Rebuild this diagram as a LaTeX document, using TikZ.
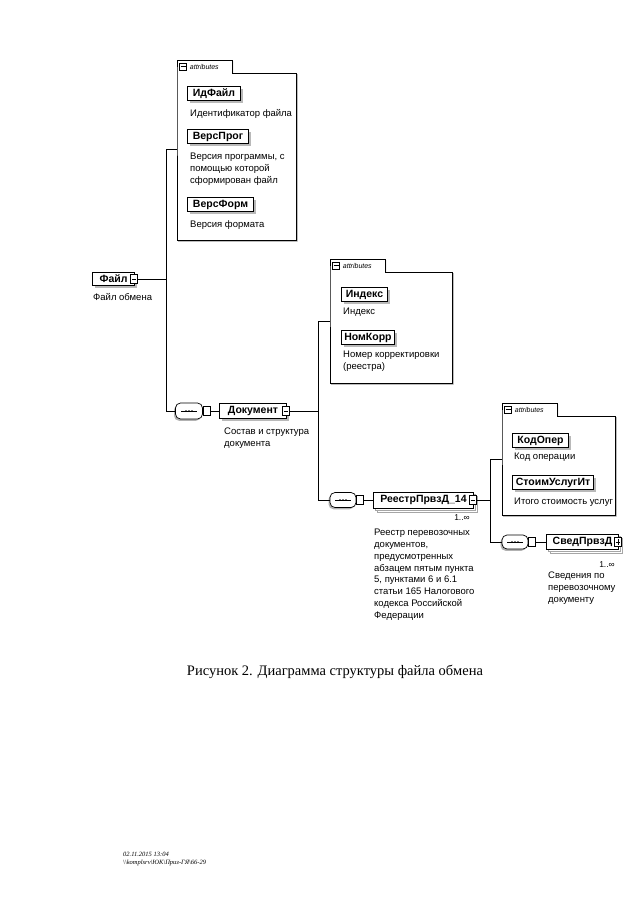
\documentclass[tikz,border=0pt]{standalone}
\usepackage{fontspec}
\setmainfont{Liberation Sans}
\newfontfamily\capfont{Liberation Serif}
\usetikzlibrary{shadows,calc}
\begin{document}
\begin{tikzpicture}[x=1pt,y=-1pt,
  conn/.style={line width=0.6pt},
  elbox/.style={draw, line width=1pt, fill=white, inner sep=0pt,
    font=\bfseries\fontsize{10.5}{12}\selectfont, minimum height=14},
  sh/.style={drop shadow={shadow xshift=2.5pt, shadow yshift=-2.5pt, fill=gray!55, opacity=1}},
  multi/.style={double copy shadow={shadow xshift=2pt, shadow yshift=-2pt, draw=gray!70, fill=white, line width=0.6pt}},
  desc/.style={anchor=north west, inner sep=0pt, align=left, font=\fontsize{9.5}{11.8}\selectfont},
  abox/.style={anchor=north west, inner sep=0pt},
  aline/.style={draw, line width=0.6pt, fill=white, drop shadow={shadow xshift=1.2pt, shadow yshift=-1.2pt, fill=gray!80, opacity=1}},
  alabel/.style={anchor=west, inner sep=0pt, font=\itshape\fontsize{7}{8}\selectfont},
  minusicon/.style={draw, fill=white, line width=0.5pt, minimum width=7, minimum height=9, inner sep=0pt,
    path picture={\draw[line width=0.5pt] ([xshift=1.3pt]path picture bounding box.west) -- ([xshift=-1.3pt]path picture bounding box.east);}},
  plusicon/.style={minusicon, path picture={\draw[line width=0.5pt] ([xshift=1.3pt]path picture bounding box.west) -- ([xshift=-1.3pt]path picture bounding box.east) (path picture bounding box.center) ++(0,3) -- ++(0,-6);}},
  smallbox/.style={draw, fill=white, line width=0.5pt, minimum width=7, minimum height=9, inner sep=0pt, anchor=west},
  seqbox/.style={draw, line width=0.7pt, fill=white, rounded corners=5, minimum width=27, minimum height=16, inner sep=0pt,
    drop shadow={shadow xshift=-1.5pt, shadow yshift=-1.8pt, fill=gray!60, opacity=1}},
  mult/.style={inner sep=0pt, font=\fontsize{8.5}{9}\selectfont},
  tabicon/.style={draw, line width=0.5pt, minimum width=7, minimum height=7, inner sep=0pt,
    path picture={\draw[line width=0.5pt] ([xshift=1pt]path picture bounding box.west) -- ([xshift=-1pt]path picture bounding box.east);}}
]
\useasboundingbox (0,0) rectangle (640,905);
\fill[white] (0,0) rectangle (640,905);

% ---------- attribute boxes ----------
\node[abox, minimum width=119, minimum height=167] (a1) at (177,73) {};
\node[abox, minimum width=122, minimum height=111] (a2) at (330,272) {};
\node[abox, minimum width=113, minimum height=99] (a3) at (502,416) {};
\foreach \b in {a1,a2,a3}{
  \path[aline] (\b.south west) -- (\b.north west) -- ++(0,-13) -- ++(55,0) -- ++(0,13)
    -- (\b.north east) -- (\b.south east) -- cycle;
  \node[tabicon] (\b i) at ($(\b.north west)+(6,-6.5)$) {};
  \node[alabel] (\b t) at ($(\b i.east)+(3,0)$) {attributes};
}

% ---------- attributes of Файл ----------
\node[elbox, sh, anchor=north west, minimum width=53] (idf) at (187,86) {ИдФайл};
\node[desc] (idfd) at (190,109) {Идентификатор файла};
\node[elbox, sh, anchor=north west, minimum width=61] (vp) at (187,129) {ВерсПрог};
\node[desc] (vpd) at (190,153) {Версия программы, с\\помощью которой\\сформирован файл};
\node[elbox, sh, anchor=north west, minimum width=66] (vf) at (187,197) {ВерсФорм};
\node[desc] (vfd) at (190,220) {Версия формата};

% ---------- attributes of Документ ----------
\node[elbox, sh, anchor=north west, minimum width=46] (ind) at (341,287) {Индекс};
\node[desc] (indd) at (343,308) {Индекс};
\node[elbox, sh, anchor=north west, minimum width=53] (nk) at (341,330) {НомКорр};
\node[desc] (nkd) at (343,351) {Номер корректировки\\(реестра)};

% ---------- attributes of РеестрПрвзД_14 ----------
\node[elbox, sh, anchor=north west, minimum width=56] (ko) at (512,433) {КодОпер};
\node[desc] (kod) at (514,453) {Код операции};
\node[elbox, sh, anchor=north west, minimum width=81] (su) at (512,475) {СтоимУслугИт};
\node[desc] (sud) at (514,498) {Итого стоимость услуг};

% ---------- Файл ----------
\node[elbox, sh, anchor=west, minimum width=42, minimum height=13] (fil) at (92,279) {Файл\hspace{5pt}};
\node[minusicon] (filx) at ([xshift=-1]fil.east) {};
\node[desc] (fild) at (93,293) {Файл обмена};
\coordinate (b1) at (166,0);
\coordinate (a1in) at (177,149);

% ---------- Документ ----------
\node[seqbox] (seq1) at (189,411) {};
\node[smallbox] (sq1) at (seq1.east) {};
\node[elbox, sh, anchor=west, minimum width=67, minimum height=15] (doc) at (219,411) {Документ\hspace{5pt}};
\node[minusicon] (docx) at ([xshift=-1]doc.east) {};
\node[desc] (docd) at (224,428) {Состав и структура\\документа};
\coordinate (b2) at (318,0);
\coordinate (a2in) at (330,321);

% ---------- РеестрПрвзД_14 ----------
\node[seqbox, minimum width=26, minimum height=15] (seq2) at (343,500) {};
\node[smallbox] (sq2) at (seq2.east) {};
\node[elbox, multi, anchor=west, minimum width=100, minimum height=16] (reestr) at (373,500) {РеестрПрвзД\_14\hspace{8pt}};
\node[minusicon] (reestrx) at ([xshift=-1]reestr.east) {};
\node[mult] (reestrm) at (462,518) {1..∞};
\node[desc] (reestrd) at (374,529) {Реестр перевозочных\\документов,\\предусмотренных\\абзацем пятым пункта\\5, пунктами 6 и 6.1\\статьи 165 Налогового\\кодекса Российской\\Федерации};
\coordinate (b3) at (490,0);
\coordinate (a3in) at (502,459);

% ---------- СведПрвзД ----------
\node[seqbox, minimum width=26, minimum height=14] (seq3) at (515,542) {};
\node[smallbox] (sq3) at (seq3.east) {};
\node[elbox, multi, anchor=west, minimum width=72, minimum height=15] (sved) at (546,542) {СведПрвзД\hspace{7pt}};
\node[plusicon] (svedx) at ([xshift=-1]sved.east) {};
\node[mult] (svedm) at (607,565) {1..∞};
\node[desc] (svedd) at (548,572) {Сведения по\\перевозочному\\документу};

% ---------- sequence glyphs ----------
\foreach \s in {seq1,seq2,seq3}{
  \draw[line width=0.5pt] ($(\s.center)+(-8,0)$) -- ($(\s.center)+(8,0)$);
  \foreach \d in {-3,0,3} \fill ($(\s.center)+(\d,0)$) circle (0.9);
}

% ---------- connectors ----------
\draw[conn] (filx.east) -- (filx.east -| b1);
\draw[conn] (a1in) -- (a1in -| b1) |- (seq1.west);
\draw[conn] (sq1.east) -- (doc.west);
\draw[conn] (docx.east) -- (docx.east -| b2);
\draw[conn] (a2in) -- (a2in -| b2) |- (seq2.west);
\draw[conn] (sq2.east) -- (reestr.west);
\draw[conn] (reestrx.east) -- (reestrx.east -| b3);
\draw[conn] (a3in) -- (a3in -| b3) |- (seq3.west);
\draw[conn] (sq3.east) -- (sved.west);

% ---------- caption and footer ----------
\node[inner sep=0pt, font=\capfont\fontsize{14.5}{17}\selectfont] (cap) at (335,672) {Рисунок 2. Диаграмма структуры файла обмена};
\node[anchor=west, inner sep=0pt, align=left, font=\capfont\itshape\fontsize{6.5}{8}\selectfont] (foot) at (123,859)
  {02.11.2015 13:04\\\textbackslash\textbackslash komplsrv\textbackslash ЮК\textbackslash Приз-ГЯ\textbackslash 66-29};
\end{tikzpicture}
\end{document}
